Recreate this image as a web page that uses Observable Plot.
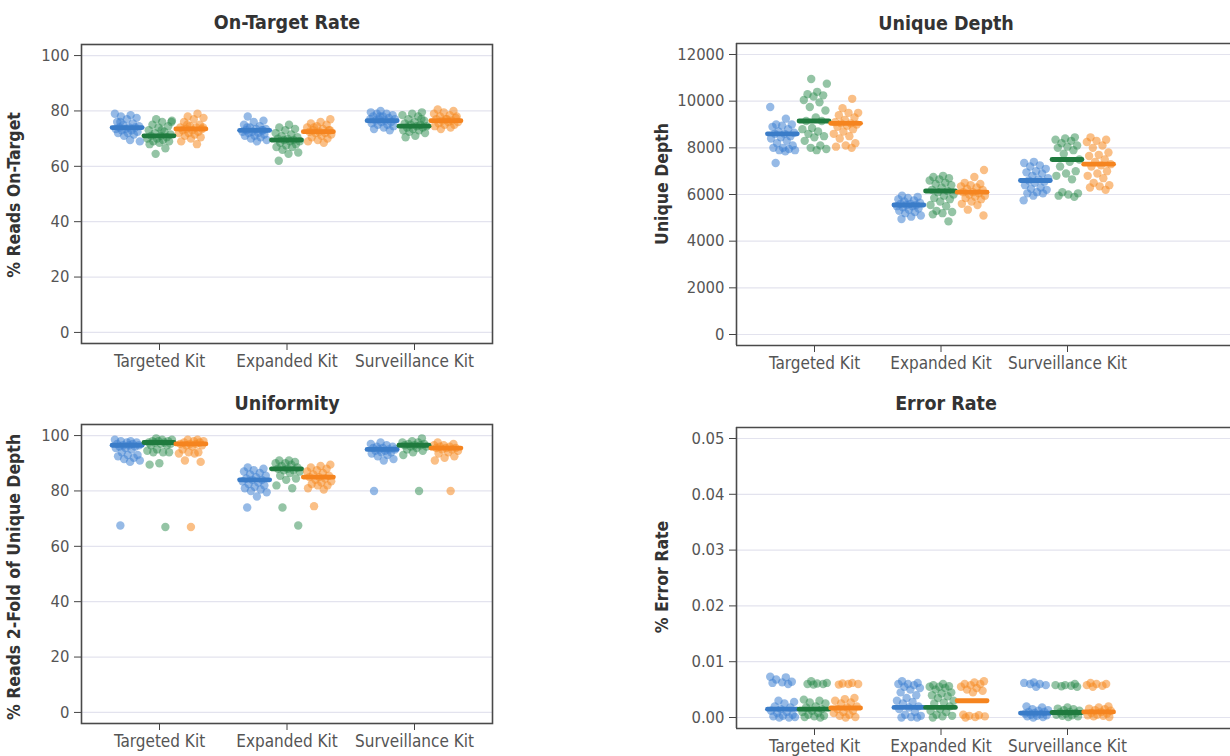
<!DOCTYPE html>
<html><head><meta charset="utf-8">
<script src="https://cdn.jsdelivr.net/npm/d3@7"></script>
<script src="https://cdn.jsdelivr.net/npm/@observablehq/plot@0.6"></script>
<style>
html,body{margin:0;padding:0;background:#fff;overflow:hidden;width:1230px;height:756px}
#root{position:relative;width:1230px;height:756px;overflow:hidden;background:#fff}
.panel{position:absolute}
.panel svg{max-width:none !important;display:block}
.title{position:absolute;font-family:"DejaVu Sans Condensed","DejaVu Sans",sans-serif;font-weight:bold;font-size:19.5px;color:#333;transform:translate(-50%,-50%);white-space:nowrap}
.ylab{position:absolute;font-family:"DejaVu Sans Condensed","DejaVu Sans",sans-serif;font-weight:bold;font-size:17.5px;color:#333;transform:translate(-50%,-50%) rotate(-90deg);white-space:nowrap}
</style>
</head><body><div id="root"></div>
<script>
const categories = ["Targeted Kit", "Expanded Kit", "Surveillance Kit"];
const seriesNames = ["Series 1", "Series 2", "Series 3"];
const seriesColors = ["#3f82d2", "#2a8a4c", "#f58a22"];
const medianColors = ["#3a7cc8", "#1f7a3e", "#f5841f"];

// ---- On-Target Rate (% reads on-target) : [Targeted, Expanded, Surveillance]
const onTargetS1 = [
  [79,78.5,78,77.5,77,76,75.5,75,74.5,74,74,74,73.5,73.5,73,73,72.5,72,72,71.5,71,69,69.5,76],
  [78,76.5,76,75,74.5,74,73.5,73.5,73,73,72.5,72.5,72,72,71.5,71,71,70.5,70,69.5,69,74,73],
  [80,79.5,79,79,78.5,78,78,77.5,77,77,76.5,76.5,76,76,75.5,75,75,74.5,74,73.5,73,78,77]];
const onTargetS2 = [
  [77,76.5,76,75,74.5,74,73,72.5,72,71.5,71,71,70.5,70,70,69.5,69,69,68.5,68,66.5,64.5,76,73],
  [75,74,73.5,73,72,71.5,71,70.5,70,70,69.5,69.5,69,69,68.5,68,67.5,67,67,66,65,64.5,62],
  [79.5,79,78.5,78,77,76.5,76,75.5,75,75,74.5,74.5,74,74,73.5,73,73,72.5,72,71,70.5,77]];
const onTargetS3 = [
  [79,78,77.5,77,76,75,74.5,74,74,73.5,73.5,73,73,72.5,72,72,71.5,71,70.5,70,69,68,75,74],
  [77,76,75.5,75,74.5,74,73.5,73,73,72.5,72.5,72,72,71.5,71,70.5,70,69.5,69,68.5,74,73],
  [80.5,80,79.5,79,78.5,78,77.5,77,77,76.5,76.5,76,76,75.5,75,75,74.5,74,73.5,78,77]];
const onTargetMedians = [[74,71,73.5],[73,69.5,72.5],[76.5,74.5,76.5]];

// ---- Unique Depth
const depthS1 = [
  [9750,9250,9000,9000,8950,8900,8800,8700,8650,8600,8600,8500,8450,8400,8300,8200,8100,8000,8000,7950,7900,7900,7850,7350],
  [5950,5900,5850,5800,5750,5700,5650,5600,5600,5550,5550,5500,5500,5450,5400,5350,5300,5250,5200,5100,5050,4950],
  [7400,7350,7250,7200,7100,7000,6950,6900,6800,6700,6650,6600,6550,6500,6400,6300,6250,6200,6100,6050,6050,5950,5750]];
const depthS2 = [
  [10950,10750,10400,10300,10250,10200,10050,9950,9750,9600,9300,9150,9150,8850,8800,8700,8600,8500,8450,8300,8100,8000,7950,7900],
  [6800,6750,6700,6650,6600,6500,6450,6400,6300,6200,6150,6100,6000,5950,5850,5800,5700,5550,5500,5300,5250,5200,5150,4850],
  [8450,8400,8350,8300,8200,8100,8050,8000,7900,7750,7500,7400,7200,7000,6900,6800,6650,6100,6050,6000,5950,5900]];
const depthS3 = [
  [10100,9700,9500,9500,9400,9300,9200,9100,9050,9050,9000,8950,8900,8800,8700,8600,8500,8400,8200,8100,8050,8000],
  [7050,6750,6500,6450,6400,6350,6300,6250,6200,6100,6100,6050,6000,5950,5900,5850,5800,5700,5600,5550,5350,5100],
  [8450,8350,8300,8250,8100,8000,7800,7700,7650,7500,7400,7300,7250,7200,7000,6900,6800,6700,6500,6400,6350,6300,6200]];
const depthMedians = [[8600,9150,9050],[5550,6150,6100],[6600,7500,7300]];

// ---- Uniformity (% reads 2-fold of unique depth)
const uniformS1 = [
  [98.5,98,98,97.5,97.5,97,97,96.5,96.5,96.5,96,96,95.5,95.5,95,94,93,93,92.5,92,91.5,91,90.5,67.5],
  [88.5,88,87.5,87,86.5,86,85.5,85,84.5,84,84,83.5,83,82.5,82,81.5,81,80.5,80,79.5,78,74],
  [97.5,97,96.5,96,96,95.5,95.5,95,95,95,94.5,94.5,94,94,93.5,93,92.5,91.5,91,80]];
const uniformS2 = [
  [99,98.5,98.5,98,98,98,97.5,97.5,97.5,97,97,96.5,96.5,95,94.5,94,94,94,90,89.5,67],
  [91,91,90.5,90,90,89.5,89,88.5,88,88,87.5,87.5,87,86.5,85.5,84.5,84,82,81,74,67.5],
  [99,98,97.5,97.5,97,97,96.5,96.5,96.5,96,96,95.5,95,94.5,94,93,80]];
const uniformS3 = [
  [98.5,98.5,98,98,97.5,97.5,97,97,97,96.5,96.5,96,95,94,94,93.5,93.5,91,90.5,67],
  [89.5,89,88.5,88,87.5,87,86.5,86,85.5,85,85,84.5,84,83.5,83,82.5,82,82,81,80.5,74.5],
  [97.5,97,96.5,96.5,96,96,95.5,95.5,95.5,95,95,94.5,94,93.5,92.5,92,91,80]];
const uniformMedians = [[96.5,97.5,97],[84,88,85],[95,96.5,95.5]];

// ---- Error Rate (%)
const errorS1 = [
  [0.0073,0.0072,0.0068,0.0064,0.0063,0.0062,0.006,0.003,0.0028,0.0025,0.002,0.0018,0.0015,0.0012,0.001,0.0008,0.0005,0.0003,0.0002,0,0,0.0001],
  [0.0065,0.0062,0.006,0.006,0.0058,0.0055,0.0053,0.005,0.0045,0.004,0.0035,0.003,0.0028,0.0025,0.002,0.0018,0.0015,0.001,0.0005,0.0003,0.0001,0,0],
  [0.0063,0.0062,0.006,0.006,0.0058,0.0055,0.002,0.0018,0.0015,0.0013,0.0012,0.001,0.001,0.0008,0.0007,0.0006,0.0005,0.0004,0.0003,0.0002,0.0001,0]];
const errorS2 = [
  [0.0065,0.0062,0.0061,0.006,0.006,0.0059,0.0032,0.003,0.0027,0.0025,0.002,0.0018,0.0015,0.0012,0.001,0.0008,0.0005,0.0003,0.0002,0.0001,0],
  [0.006,0.0058,0.0056,0.0055,0.0055,0.0053,0.005,0.0045,0.0043,0.004,0.0038,0.0035,0.003,0.0027,0.0025,0.002,0.0015,0.0012,0.001,0.0005,0.0003,0.0002,0],
  [0.006,0.0058,0.0058,0.0057,0.0056,0.0055,0.0018,0.0016,0.0015,0.0013,0.0012,0.001,0.0009,0.0008,0.0007,0.0005,0.0004,0.0003,0.0002,0.0001]];
const errorS3 = [
  [0.0062,0.0061,0.006,0.006,0.0059,0.0035,0.0033,0.003,0.0027,0.0025,0.002,0.0018,0.0015,0.0012,0.001,0.0008,0.0005,0.0003,0.0001,0],
  [0.0065,0.0063,0.006,0.006,0.0058,0.0055,0.0053,0.005,0.0048,0.0045,0.0005,0.0004,0.0003,0.0002,0.0001,0],
  [0.0062,0.006,0.006,0.0058,0.0057,0.0055,0.002,0.0018,0.0016,0.0015,0.0013,0.0012,0.001,0.0008,0.0007,0.0005,0.0004,0.0003,0.0002,0.0001]];
const errorMedians = [[0.0015,0.0015,0.0017],[0.0018,0.0018,0.003],[0.0008,0.0009,0.001]];

const onTargetTicks = [0,20,40,60,80,100];
const depthTicks = [0,2000,4000,6000,8000,10000,12000];
const uniformTicks = [0,20,40,60,80,100];
const errorTicks = [0,0.01,0.02,0.03,0.04,0.05];

// ---------- layout helpers
const FONT = '"DejaVu Sans Condensed","DejaVu Sans",sans-serif';
const seriesOffset = [-0.25, 0, 0.25];
const jitterHalf = 0.1;
const medianHalf = 0.118;

function buildRows(seriesArrays) {
  const rows = [];
  seriesArrays.forEach((arr, si) => {
    arr.forEach((vals, ci) => {
      vals.forEach((v, i) => {
        const j = ((i * 0.6180339887 + si * 0.37 + ci * 0.21) % 1) * 2 - 1;
        rows.push({cat: categories[ci], series: seriesNames[si], x: ci + seriesOffset[si] + j * jitterHalf, y: v, si});
      });
    });
  });
  return rows;
}
function buildMedians(meds) {
  const rows = [];
  meds.forEach((m, ci) => m.forEach((v, si) => rows.push({cat: categories[ci], series: seriesNames[si], x: ci + seriesOffset[si], y: v, si})));
  return rows;
}

function makePanel(cfg) {
  const rows = buildRows(cfg.series);
  const meds = buildMedians(cfg.medians);
  const innerW = cfg.width - cfg.ml - cfg.mr;
  const spacing = cfg.spacing;
  const x0 = -cfg.leftPad / spacing;
  const x1 = x0 + innerW / spacing;
  const frameMarks = cfg.openRight
    ? [Plot.ruleX([x0], {stroke: "#4a4a4a", strokeWidth: 1.6}),
       Plot.ruleY([cfg.yDomain[0], cfg.yDomain[1]], {x1: x0, x2: x1, stroke: "#4a4a4a", strokeWidth: 1.6})]
    : [Plot.frame({stroke: "#4a4a4a", strokeWidth: 1.6})];
  const chart = Plot.plot({
    width: cfg.width, height: cfg.height,
    marginLeft: cfg.ml, marginRight: cfg.mr, marginTop: cfg.mt, marginBottom: cfg.mb,
    style: {fontFamily: FONT, fontSize: "16.5px", color: "#555", background: "transparent", maxWidth: "none"},
    x: {domain: [x0, x1], axis: null},
    y: {domain: cfg.yDomain, axis: null},
    color: {domain: seriesNames, range: seriesColors},
    marks: [
      Plot.gridY(cfg.ticks, {stroke: "#e3e3ee", strokeOpacity: 1, strokeWidth: 1.2}),
      Plot.dot(rows, {x: "x", y: "y", r: 4.2, fill: d => seriesColors[d.si], fillOpacity: d => d.si === 1 ? 0.5 : 0.55, stroke: "none"}),
      Plot.ruleY(meds, {y: "y", x1: d => d.x - medianHalf, x2: d => d.x + medianHalf, stroke: d => medianColors[d.si], strokeWidth: 4.8, strokeLinecap: "round"}),
      Plot.axisY({ticks: cfg.ticks, tickFormat: cfg.fmt, tickSize: 7, tickPadding: 5, label: null, fontSize: 16.5, stroke: "#444"}),
      Plot.axisX({ticks: [0,1,2], tickFormat: i => categories[i], tickSize: 7, tickPadding: 4, label: null, fontSize: 17, stroke: "#444"}),
      ...frameMarks
    ]
  });
  const wrap = document.createElement("div");
  wrap.className = "panel";
  wrap.style.left = cfg.left + "px";
  wrap.style.top = cfg.top + "px";
  wrap.appendChild(chart);
  document.getElementById("root").appendChild(wrap);

  const t = document.createElement("div");
  t.className = "title"; t.textContent = cfg.title;
  t.style.left = cfg.titleX + "px"; t.style.top = cfg.titleY + "px";
  document.getElementById("root").appendChild(t);
  const yl = document.createElement("div");
  yl.className = "ylab"; yl.textContent = cfg.ylabel;
  yl.style.left = cfg.ylabX + "px"; yl.style.top = cfg.ylabY + "px";
  document.getElementById("root").appendChild(yl);
}

makePanel({title: "On-Target Rate", ylabel: "% Reads On-Target", series: [onTargetS1, onTargetS2, onTargetS3], medians: onTargetMedians,
  ticks: onTargetTicks, fmt: d3.format("d"), yDomain: [-4, 104],
  left: 0, top: 0, width: 500, height: 380, ml: 81, mr: 8, mt: 44, mb: 37, spacing: 127.5, leftPad: 78,
  titleX: 287, titleY: 22, ylabX: 14, ylabY: 195});
makePanel({title: "Unique Depth", ylabel: "Unique Depth", series: [depthS1, depthS2, depthS3], medians: depthMedians,
  ticks: depthTicks, fmt: d3.format("d"), yDomain: [-471, 12471], openRight: true,
  left: 620, top: 0, width: 610, height: 380, ml: 116, mr: 0, mt: 43, mb: 35, spacing: 126.5, leftPad: 78,
  titleX: 946, titleY: 23, ylabX: 662, ylabY: 184});
makePanel({title: "Uniformity", ylabel: "% Reads 2-Fold of Unique Depth", series: [uniformS1, uniformS2, uniformS3], medians: uniformMedians,
  ticks: uniformTicks, fmt: d3.format("d"), yDomain: [-4, 104],
  left: 0, top: 380, width: 500, height: 376, ml: 81, mr: 8, mt: 44, mb: 33, spacing: 127.5, leftPad: 78,
  titleX: 287, titleY: 403, ylabX: 14, ylabY: 577});
makePanel({title: "Error Rate", ylabel: "% Error Rate", series: [errorS1, errorS2, errorS3], medians: errorMedians,
  ticks: errorTicks, fmt: d3.format(".2f"), yDomain: [-0.00197, 0.05197], openRight: true,
  left: 620, top: 380, width: 610, height: 376, ml: 116, mr: 0, mt: 47, mb: 28, spacing: 126.5, leftPad: 78,
  titleX: 946, titleY: 403, ylabX: 662, ylabY: 577});
</script>
</body></html>
